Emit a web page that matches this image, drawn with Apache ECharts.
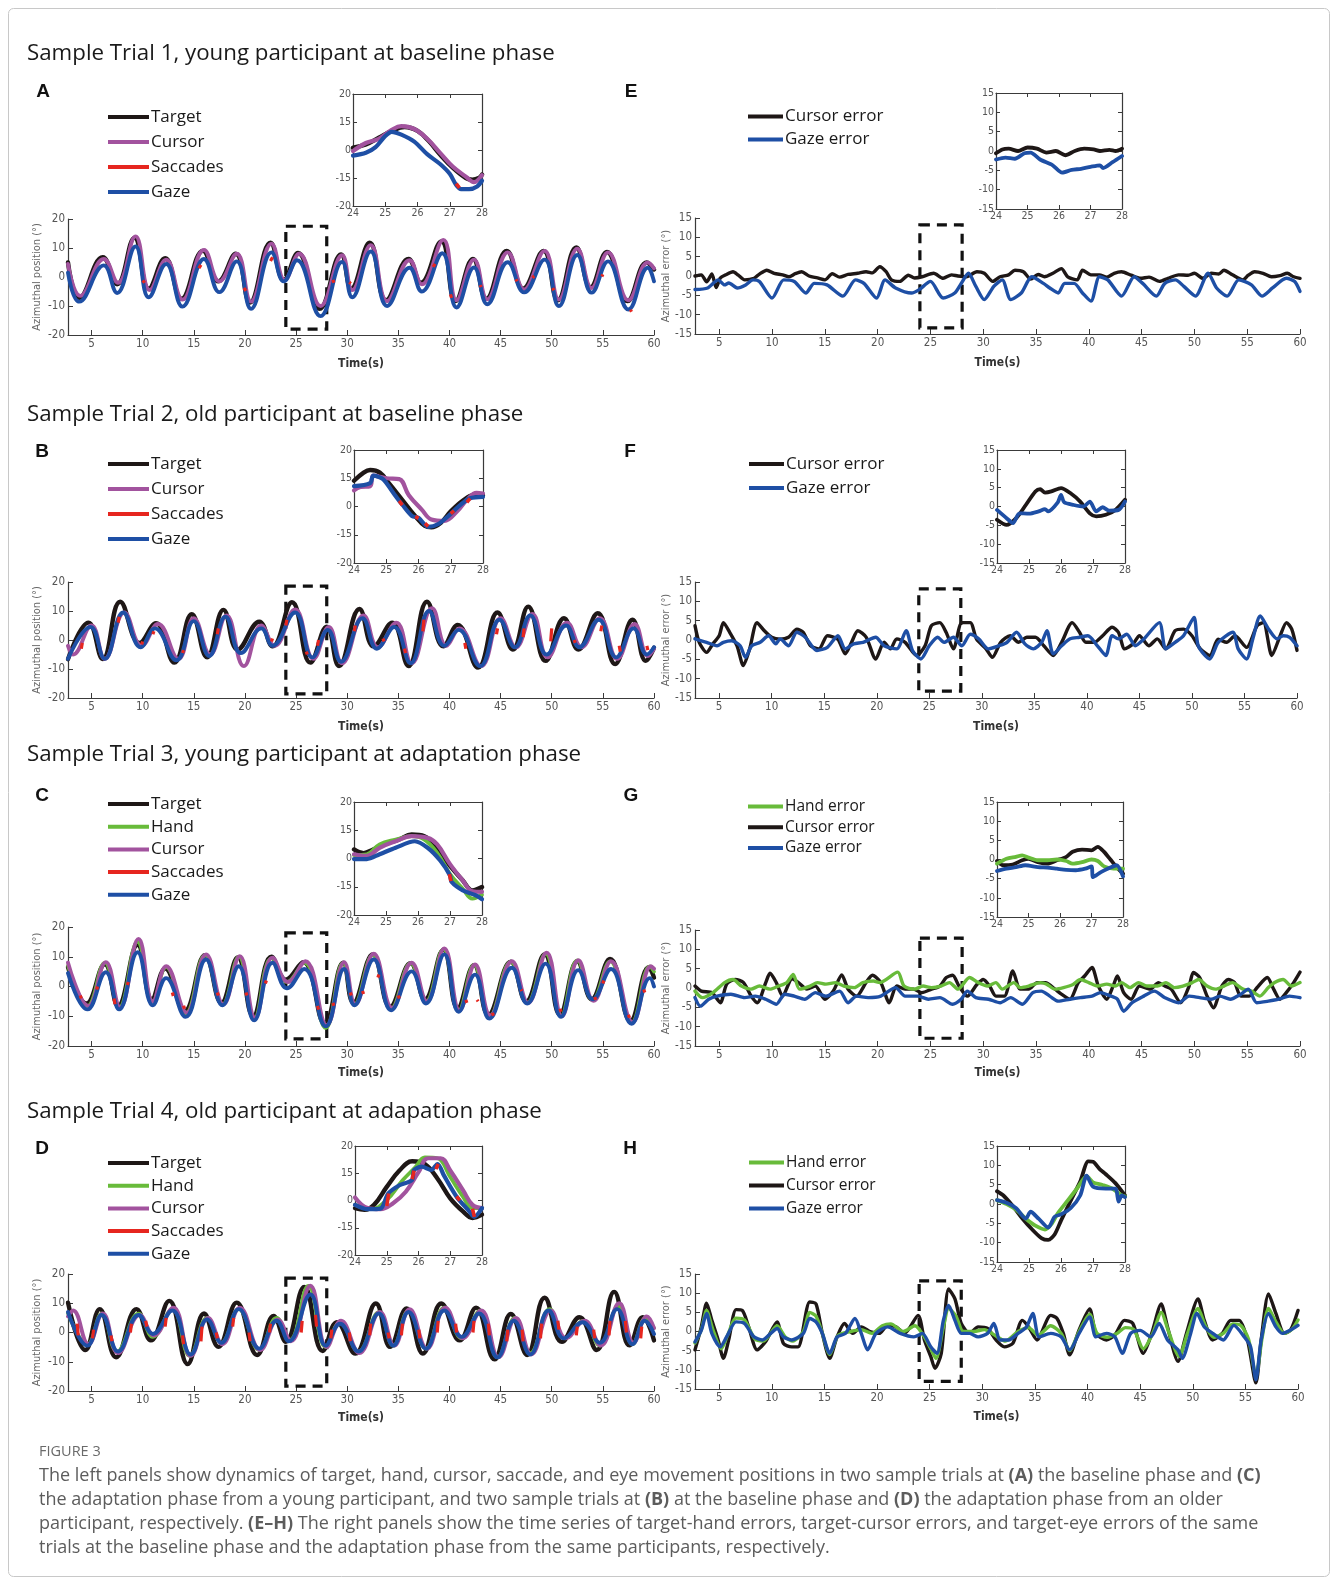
<!DOCTYPE html>
<html><head><meta charset="utf-8">
<script src="https://cdn.jsdelivr.net/npm/echarts@6/dist/echarts.min.js"></script>
<style>html,body{margin:0;padding:0;background:#fff;}#c{width:1332px;height:1580px;}</style>
</head><body><div id="c"></div>
<script>
// ---------------- tick labels ----------------
const timeTickValues = [5,10,15,20,25,30,35,40,45,50,55,60];
const insetPosTickLabels = {'-20':'-20','-10':'-15','0':'0','10':'15','20':'20'};

// ---------------- Panel A (Trial 1, young, baseline) ----------------
const tgtA = [[2.7,5],[3.8,-7.2],[6.1,6.8],[7.5,-2.5],[9.2,13.5],[10.6,-4],[12.2,6.5],[13.8,-7.5],[15.9,9],[17.4,-1.5],[19.1,8],[20.5,-8.8],[22.5,11.8],[23.8,-1],[25.2,8.3],[27.3,-11],[29.4,7.8],[30.4,-4],[32.2,11.8],[33.8,-8],[36.0,6.2],[37.2,-2],[39.2,12.3],[40.6,-8.3],[42.3,6.2],[43.6,-7.5],[45.6,9],[47.2,-4],[49.2,9],[50.6,-8],[52.4,10.2],[53.8,-3.5],[55.4,8.6],[57.4,-8.3],[59.3,5],[60,2.6]];
const curA = [[2.7,4.5],[3.9,-6.5],[6.2,6.2],[7.6,-2],[9.3,14],[10.7,-4.5],[12.3,6],[13.9,-7.8],[16.0,9.3],[17.5,-1.5],[19.2,8],[20.6,-8.5],[22.6,11.5],[23.9,-1],[25.3,8],[27.4,-10],[29.5,7.5],[30.5,-4.5],[32.3,11],[33.9,-8.3],[36.1,5.8],[37.3,-2.5],[39.4,12.8],[40.7,-8],[42.4,6],[43.7,-7.7],[45.7,8.5],[47.3,-4.3],[49.3,9],[50.7,-7.8],[52.5,9.8],[53.9,-3.8],[55.5,8.5],[57.5,-8],[59.4,5],[60,3]];
const gazA = [[2.7,1.5],[3.8,-8.5],[6.2,4],[7.5,-5.5],[9.3,10.5],[10.6,-7],[12.3,4.5],[13.9,-10.2],[16.0,6.2],[17.5,-5.2],[19.2,5.4],[20.6,-11],[22.6,8.5],[23.8,-1.5],[25.1,5.8],[27.4,-13.5],[29.5,5.2],[30.5,-7],[32.3,8.8],[33.9,-10],[36.1,3.2],[37.3,-5],[39.3,8.2],[40.7,-10.5],[42.4,3.3],[43.7,-9.4],[45.7,5.1],[47.3,-5.3],[49.3,6],[50.7,-10],[52.5,7.6],[53.9,-5.4],[55.5,5.4],[57.5,-11.2],[59.4,3.2],[60,-1.5]];
const sacA = [[10,-1.2,10.2,-2],[15.5,3,15.7,4.2],[19.9,-3.8,20.1,-4.8],[22.5,5.5,22.7,6.8],[28.6,-1,28.7,-2],[30.2,-1.8,30.35,-2.3],[38.4,3.5,38.6,4.5],[40.1,-6,40.2,-7.2],[43,-2.8,43.1,-3.5],[46.5,-0.8,46.6,-1.5],[48.1,-0.2,48.3,0.3],[50.1,-3.8,50.2,-4.6],[54.9,0.2,55,0.9],[57.7,-11.3,57.8,-12]];
const insA_tgt = [[24,0.8],[24.4,2],[24.8,4.4],[25.2,6.8],[25.6,8.2],[26,6.8],[26.35,3.2],[26.7,-1.6],[27.1,-6.4],[27.5,-10],[27.7,-10.6],[27.9,-10],[28,-8.8]];
const insA_cur = [[24,-0.4],[24.4,2.5],[24.8,4],[25.2,7.2],[25.5,8.5],[25.9,7.5],[26.3,4],[26.7,-1],[27.1,-6],[27.5,-9.5],[27.75,-11.5],[28,-9]];
const insA_gaz = [[24,-2],[24.4,-1],[24.7,1],[25.0,5],[25.2,6.5],[25.5,5.5],[25.9,3],[26.3,-1.5],[26.7,-5],[27.0,-8.5],[27.2,-12.5],[27.35,-14],[27.6,-14],[27.85,-13],[28,-11]];
const insA_sac = [[27.2,-12,27.3,-13.5]];

// ---------------- Panel B (Trial 2, old, baseline) ----------------
const tgtB = [[2.7,-6.6],[4.7,6],[6.1,-6.6],[7.8,13.2],[9.7,-1],[11.3,5.8],[13.1,-7.8],[14.8,8.9],[16.3,-6],[17.9,10.4],[19.3,-3.3],[21.4,6.3],[22.7,-2.2],[24.6,13],[26.4,-7.8],[28,4.6],[29.2,-9],[31.2,10.7],[32.6,-2.2],[34.4,6],[36,-9],[37.8,13.2],[39.4,-2.2],[40.8,5.2],[42.8,-9.5],[44.7,9.5],[46.2,-3.3],[47.7,11.5],[49.4,-7.2],[51.2,7.5],[52.6,-3.3],[54.5,9.2],[56.2,-8.3],[57.9,7],[59.2,-7.2],[60,-2.7]];
const curB = [[2.7,-2],[3.2,-5],[5.0,5],[6.3,-6.5],[8.2,9.5],[9.9,-2],[11.5,5.5],[13.5,-6.5],[15.0,7.5],[16.6,-5],[18.2,8.5],[19.9,-9],[21.6,5],[22.9,-2],[24.9,10.5],[26.7,-6.5],[28.2,4.5],[29.5,-8],[31.6,8.5],[33.0,-2.5],[34.8,6],[36.3,-8],[38.3,11],[39.7,-2],[41.0,4],[43.1,-9],[45.0,7.5],[46.5,-2.5],[48.1,9],[49.6,-6],[51.5,6],[52.9,-2.5],[54.7,7.5],[56.4,-6.5],[58.1,5.5],[59.4,-5.5],[60,-3]];
const gazB = [[2.7,-6.5],[4.9,4.5],[6.3,-6.5],[8.1,9.5],[9.8,-2.5],[11.2,4],[13.3,-7],[15.0,6.5],[16.5,-5.5],[18.1,8],[19.6,-4.5],[21.6,4],[22.7,-2],[24.9,9.5],[26.6,-6],[28.1,3.5],[29.4,-7.5],[31.5,7.5],[32.9,-3],[34.6,4.5],[36.2,-8],[38.0,10],[39.5,-2],[40.9,3.5],[43.0,-9],[44.9,7],[46.4,-2.5],[47.9,8.5],[49.5,-5],[51.4,5],[52.7,-2.5],[54.6,7],[56.3,-6],[58.0,4],[59.3,-5],[60,-2.5]];
const sacB = [[4.0,-3,4.1,-1],[7.6,6,7.7,8],[9.9,-1.5,10,-0.5],[11.0,2,11.1,3],[13.9,-4.5,14,-3.5],[17.3,2,17.4,4],[22.6,-0.5,22.7,0.5],[24.0,5,24.1,7],[26.0,-4,26.1,-5],[27.1,-2,27.2,0],[30.7,3,30.8,5],[33.5,0.5,33.6,-0.5],[35.6,-3,35.7,-4.5],[37.4,3,37.5,7],[41.5,-1,41.6,-3],[44.6,2,44.7,4],[47.2,1,47.3,4],[49.9,-0.5,50,4],[52.2,0,52.3,-1],[54.8,3,54.9,5],[56.6,-2,56.7,-4],[59.3,-2,59.4,-3.5]];
const insB_tgt = [[24,9.1],[24.3,12],[24.5,12.9],[24.8,12],[25.1,8],[25.5,2.3],[25.9,-3.4],[26.2,-6.9],[26.4,-7.4],[26.7,-5.7],[27.0,-1.7],[27.4,2.3],[27.7,4],[28,4]];
const insB_cur = [[24,5.7],[24.2,6.9],[24.5,7.2],[24.6,10.9],[25,10],[25.4,9.7],[25.7,4],[26.1,-1.1],[26.4,-4.6],[26.8,-5.1],[27.2,-1.7],[27.5,2.3],[27.8,4.8],[28,4.6]];
const insB_gaz = [[24,7.2],[24.5,8.3],[24.6,10.9],[24.9,9.7],[25.2,5.1],[25.5,0.6],[25.8,-3.4],[26.0,-4],[26.3,-7.2],[26.6,-6.3],[27.0,-2.6],[27.3,0.6],[27.6,2.9],[28,3.4]];
const insB_sac = [[25.4,2,25.5,0.5],[25.9,-3.5,26,-4.2],[26.2,-6,26.3,-7],[27.0,-2.5,27.1,-1.5],[27.5,1.5,27.6,2.9]];

// ---------------- Panel C (Trial 3, young, adaptation) ----------------
const tgtC = [[2.7,6.5],[4.5,-5.7],[6.3,7.5],[7.6,-6.5],[9.5,14],[10.9,-4.3],[12.2,6],[14.1,-8.3],[16.1,10.5],[17.7,-5.5],[19.3,9.8],[20.8,-10],[22.6,10],[24.0,2.3],[25.7,8.2],[27.8,-12.5],[29.6,8],[30.6,-5.5],[32.5,10.8],[34.2,-6.8],[36.2,7.8],[37.6,-4.3],[39.4,12.3],[40.8,-7.3],[42.4,7.2],[43.8,-9.5],[46.0,8.3],[47.5,-5],[49.3,10.8],[50.8,-9.5],[52.5,8.5],[53.9,-4.3],[55.7,9.3],[57.7,-11.5],[59.5,6.5],[60,3]];
const hndC = [[2.7,7],[4.6,-6.5],[6.3,8],[7.7,-7],[9.5,15],[11.0,-5],[12.3,6.5],[14.2,-9],[16.1,10.5],[17.8,-6],[19.4,10],[20.9,-10.8],[22.6,9.5],[24.1,1.5],[25.8,8],[27.9,-14],[29.6,8],[30.7,-6],[32.5,10.5],[34.3,-7.3],[36.2,7.8],[37.7,-5],[39.4,12.5],[40.9,-8],[42.4,7.3],[43.9,-10.2],[46.0,8.3],[47.6,-5.5],[49.4,11],[50.9,-10],[52.5,8.8],[54.0,-4.5],[55.7,8.5],[57.8,-12.2],[59.6,6.8],[60,5]];
const curC = [[2.7,8],[4.7,-6.5],[6.4,8.2],[7.8,-7],[9.6,16],[11.0,-5],[12.3,6.8],[14.3,-8.8],[16.2,10.8],[17.9,-6],[19.5,10.2],[21.0,-10.5],[22.7,9.7],[24.2,1.5],[25.9,8.5],[28.0,-13],[29.7,8.2],[30.8,-6],[32.6,11],[34.4,-7.2],[36.3,8],[37.8,-5],[39.5,12.8],[41.0,-8],[42.5,7.4],[44.0,-9.7],[46.1,8.5],[47.7,-5.5],[49.5,11.4],[51.0,-10],[52.6,8.8],[54.1,-4.8],[55.8,8.5],[57.9,-12],[59.7,6.8],[60,6]];
const gazC = [[2.7,4.5],[4.6,-7.7],[6.4,4.8],[7.7,-7.7],[9.5,11.5],[11.0,-6.3],[12.3,2.8],[14.2,-10.2],[16.2,9.1],[17.8,-6.3],[19.4,6.8],[20.9,-11.4],[22.7,8],[24.1,-0.6],[25.8,5.9],[27.9,-13.4],[29.7,5.9],[30.7,-6.3],[32.6,9.1],[34.3,-8],[36.3,5.1],[37.7,-5.7],[39.5,10.8],[40.9,-8.5],[42.5,4],[43.9,-10.8],[46.1,6.3],[47.6,-5.7],[49.4,7.7],[50.9,-10.2],[52.6,5.5],[54.0,-4.3],[55.8,5.9],[57.8,-12.5],[59.6,2.8],[60,0]];
const sacC = [[3.9,-3,4,-4],[5.5,-1,5.6,0],[7.2,-4,7.3,-6],[8.5,0.5,8.6,1.5],[12.9,-2,13,-3.2],[14,-6.5,14.1,-7.5],[17.3,-2,17.4,-3],[20.1,-2,20.2,-3],[22,1,22.1,2],[27.1,-6.5,27.2,-7.8],[28.6,-5.5,28.7,-6.5],[30.3,-2,30.4,-3],[31.5,-1.5,31.6,-2.5],[33,3,33.1,4],[35,-3,35.1,-4],[41.6,-4.5,41.7,-5.5],[42.7,-4.5,42.8,-5],[44.2,-8.8,44.3,-9.8],[47,-1,47.1,-1.5],[50.8,-7.5,50.9,-8.5],[54.2,-3.5,54.3,-4.5],[55,1,55.1,2],[57.5,-9.5,57.6,-10.5],[59,-1,59.1,-2]];
const insC_tgt = [[24,3.2],[24.3,1.9],[24.6,3.2],[25,5.3],[25.4,6.7],[25.8,8.5],[26.2,7.9],[26.6,3.2],[27.0,-2.6],[27.4,-7.8],[27.7,-11.3],[28,-10.1]];
const insC_hnd = [[24,1.2],[24.4,1.5],[24.8,5],[25.3,6.7],[25.8,7.9],[26.2,6.7],[26.6,2],[27.0,-5.5],[27.4,-10.7],[27.7,-14.2],[28,-12.8]];
const insC_cur = [[24,1.5],[24.4,0.9],[24.8,3.8],[25.3,6.1],[25.8,7.9],[26.3,7.3],[26.6,5],[27.0,-2],[27.4,-7.8],[27.7,-11.6],[28,-11.8]];
const insC_gaz = [[24,-0.2],[24.4,-0.2],[24.8,1.5],[25.3,3.8],[25.9,6.1],[26.3,3.8],[26.7,-0.8],[27.0,-6],[27.05,-8.3],[27.4,-11.3],[27.8,-13],[28,-14.4]];
const insC_sac = [[26.98,-5.5,27.03,-8]];

// ---------------- Panel D (Trial 4, old, adaptation) ----------------
const tgtD = [[2.7,10.2],[4.4,-6],[5.8,8],[7.4,-8.5],[9.4,8],[10.8,-2.7],[12.6,10.8],[14.4,-10.8],[16,6.5],[17.4,-4.9],[19.2,10.2],[21.2,-7.7],[22.8,5.7],[24,-3.2],[25.8,15.6],[27.6,-6.3],[29,3.5],[30.8,-7.2],[32.8,9.9],[34.2,-4.9],[35.8,8.2],[37.4,-7.2],[39.2,9.9],[41,-2.7],[42.6,8.5],[44.4,-9.2],[46,6.3],[47.6,-7.7],[49.3,11.9],[51,-3.2],[52.7,5.2],[54.4,-6],[56.1,13.9],[57.6,-4.4],[58.9,5.2],[60,-2.7]];
const hndD = [[2.7,6.5],[4.6,-4],[6.0,6.5],[7.5,-6.5],[9.6,6.5],[11.0,-1.5],[12.9,8],[14.6,-8],[16.3,5],[17.7,-3.5],[19.4,8],[21.4,-6],[23.1,5],[24.4,-2.5],[26.2,16],[27.9,-5],[29.3,3.5],[31.1,-6.5],[33.1,7],[34.5,-4.5],[36.0,7.5],[37.7,-5.5],[39.5,8.5],[41.2,-2],[43.0,7.5],[44.7,-8.5],[46.4,5],[47.9,-7],[49.8,8],[51.3,-2],[53.1,4],[54.7,-4.5],[56.5,9],[57.9,-4],[59.2,5],[60,1.5]];
const curD = [[2.7,5.5],[3.2,7.5],[4.7,-4],[6.1,6.5],[7.6,-7],[9.7,6],[11.1,-1],[13.0,8.5],[14.7,-8],[16.4,5],[17.8,-4],[19.5,8.5],[21.5,-6],[23.2,4.5],[24.5,-3],[26.4,16],[28.0,-5],[29.4,4],[31.2,-7],[33.2,7],[34.6,-4.5],[36.1,8],[37.8,-5.5],[39.6,8.5],[41.3,-2],[43.1,7.5],[44.8,-8.5],[46.5,5],[48.0,-7.5],[49.9,7.5],[51.4,-2],[53.2,4],[54.8,-4.5],[56.6,10],[58.0,-3.5],[59.3,5.5],[60,1.5]];
const gazD = [[2.7,7],[4.6,-4.5],[6.0,6],[7.6,-6.5],[9.6,6],[11.0,-0.5],[12.9,7.5],[14.7,-7.5],[16.3,4.5],[17.7,-3.5],[19.4,8],[21.4,-5.5],[23.1,4],[24.3,-3],[26.4,13],[27.9,-4.5],[29.3,3],[31.1,-6.5],[33.1,6.5],[34.5,-4.5],[36.0,7],[37.7,-5.5],[39.5,7.5],[41.2,-1.5],[42.9,6.5],[44.7,-8.5],[46.3,4],[47.9,-7.5],[49.7,7.5],[51.2,-2],[53.0,3.5],[54.7,-3.5],[56.4,8],[57.9,-4],[59.1,4],[60,-0.5]];
const sacD = [[3.6,3,3.7,-1],[5.1,-2,5.2,1],[6.9,-1,7,-3],[8.8,0,8.9,3],[10.3,4,10.4,2],[12.2,2,12.3,5],[13.9,-1,14,-4],[15.7,-3,15.8,2],[17.2,0,17.3,-2],[18.8,2,18.9,5],[20.4,0,20.5,-3],[22.4,0,22.5,3],[25.5,0,25.6,4],[26.9,6,27,2],[28.4,-2,28.5,1],[30.2,0,30.3,-3],[32.2,-1,32.3,3],[34,0,34.1,-2],[35.3,-1,35.4,3],[37,1,37.1,-2],[38.8,0,38.9,4],[40.6,3,40.7,0],[42.3,0,42.4,4],[43.8,3,43.9,-1],[45.6,-3,45.7,1],[47.1,1,47.2,-3],[48.9,-2,49,3],[50.6,4,50.7,1],[52.4,-1,52.5,2],[54.1,1,54.2,-2],[55.6,-1,55.7,4],[57.2,4,57.3,0],[58.7,-2,58.8,2]];
const insD_tgt = [[24,-2.8],[24.3,-3.4],[24.6,-1.6],[25,5],[25.4,11],[25.8,14.4],[26.2,13.4],[26.6,8],[27.0,0.8],[27.4,-4],[27.7,-6.4],[28,-5.2]];
const insD_hnd = [[24,-1.6],[24.5,-3.2],[25,0.2],[25.5,7.4],[25.9,12.2],[26.2,15.8],[26.6,15.5],[27.0,8.6],[27.4,1.4],[27.7,-2.8],[28,-2.8]];
const insD_cur = [[24,1.1],[24.4,-2.8],[24.8,-3.2],[25.2,-1],[25.6,3.2],[26.0,10.4],[26.3,15.5],[26.7,15.5],[27.0,11],[27.4,3.8],[27.7,-1.6],[28,-2.8]];
const insD_gaz = [[24,-1.6],[24.4,-3.2],[24.8,-3],[25.05,2.6],[25.4,5.6],[25.8,7.6],[25.85,11],[26.1,12.4],[26.4,11.2],[26.6,13.4],[26.8,9.2],[27.2,1.4],[27.6,-4],[27.75,-6],[28,-2.8]];
const insD_sac = [[25.0,-2,25.06,2.6],[25.8,7.8,25.86,11],[26.55,11.5,26.62,13.4],[27.2,1.5,27.3,0],[27.7,-3,27.76,-6]];

// ---------------- Panel E (errors, trial 1) ----------------
const curErrE = [[2.7,0],[3.3,0.3],[3.8,-1.5],[4.3,0.5],[4.7,-3],[5.1,-0.5],[5.6,0.3],[6.3,1.1],[6.8,0.2],[7.4,-1],[8.3,-0.6],[8.8,0.5],[9.5,1.5],[10.2,0.7],[11.0,0.3],[11.6,-0.2],[12.2,0.6],[12.8,1.1],[13.5,0],[14.3,-0.5],[15.0,-1],[15.7,0.6],[16.4,-0.3],[17.2,0.4],[18.1,0.7],[18.9,1.1],[19.5,0.8],[20.2,2.4],[20.8,1.1],[21.3,-1],[22.1,-1.4],[22.9,0.2],[23.5,-0.5],[24.2,-0.2],[25.3,0.7],[26.2,-0.6],[27.0,0.3],[27.6,0],[28.4,-0.2],[29.4,1.1],[30.1,0.7],[30.9,-1.4],[31.6,-0.2],[32.4,0.3],[33.0,1.5],[33.8,1.1],[34.5,-0.8],[35.2,0.4],[35.8,-0.2],[36.6,0.7],[37.4,1.9],[38.0,-0.2],[38.9,-1],[39.4,1.5],[40.2,0.3],[41.0,0.3],[41.7,-0.3],[42.4,0.7],[43.1,1.1],[44.0,0.2],[44.9,-0.6],[45.7,-0.3],[46.7,-1.4],[47.5,-0.6],[48.5,0.3],[49.4,0.2],[50.0,0.7],[50.8,-0.6],[51.6,0.7],[52.3,0.5],[52.8,1.5],[53.6,0.3],[54.6,-1],[55.1,0.2],[55.7,1.1],[56.5,0.7],[57.3,-0.2],[58.1,0.1],[58.8,0.7],[59.4,-0.2],[60,-0.6]];
const gazErrE = [[2.7,-3.5],[3.9,-3.1],[4.9,-1],[5.5,-2.3],[5.9,-1.8],[6.7,-3.1],[7.5,-2.3],[8.2,-1],[8.8,-1.4],[10.0,-5.7],[11.1,-1],[12.1,-1.4],[13.2,-4.4],[14.0,-1.9],[15.2,-2.3],[16.7,-5.2],[17.9,-1],[18.7,-1.9],[19.9,-5.7],[20.7,-1],[21.7,-3.1],[23.2,-4.4],[23.9,-3.6],[25.0,-1.4],[26.2,-5.7],[27.3,-4.4],[27.9,-2],[28.6,0.7],[29.3,-2.7],[30.1,-6.1],[31.0,-2.7],[31.8,-1],[32.6,-6.1],[33.6,-4.4],[34.6,-0.2],[35.7,-1.9],[36.3,-3.1],[37.1,-4.4],[37.7,-1.9],[38.6,-1.9],[39.4,-4.4],[40.2,-6.5],[41.0,-0.2],[41.8,-1],[43.1,-5.2],[44.3,-0.2],[45.1,-1.9],[46.4,-5.2],[47.2,-1.9],[48.2,-1],[49.0,-2.7],[50.1,-5.2],[51.3,0.7],[52.1,-3.1],[53.1,-5.2],[54.2,-1],[55.4,-2.3],[56.4,-5.2],[57.4,-3.1],[58.7,-0.6],[59.5,-1.4],[60,-4]];
const insE_cur = [[24,-0.6],[24.2,0.4],[24.4,0.6],[24.7,0],[25,0.9],[25.3,0.6],[25.6,-0.4],[25.9,0],[26.2,-1.1],[26.5,0],[26.8,0.6],[27.1,0.4],[27.3,0],[27.6,0.3],[27.8,0],[28,0.6]];
const insE_gaz = [[24,-2.2],[24.3,-1.7],[24.6,-2],[24.9,-0.6],[25.1,-0.4],[25.4,-2.2],[25.8,-3.7],[26.1,-5.6],[26.4,-4.9],[26.7,-4.6],[27.0,-4.1],[27.3,-3.7],[27.4,-4.4],[27.7,-2.9],[28,-1.3]];

// ---------------- Panel F (errors, trial 2) ----------------
const curErrF = [[2.7,3.7],[3.1,-0.6],[3.8,-3.2],[4.4,-1],[5.0,1.1],[5.4,4.5],[6.0,2],[6.7,-1.5],[7.3,-6.6],[7.9,-2.3],[8.6,4.5],[9.3,2.4],[10.0,0.7],[10.8,0.2],[11.6,0.7],[12.4,2.8],[13.0,2],[13.7,-1.5],[14.5,-2.3],[15.3,1.1],[16.3,0.2],[17.0,-3.6],[17.6,-0.6],[18.2,2.4],[19.0,0.7],[19.9,-4.9],[20.7,-0.6],[21.3,-2.3],[21.9,0.3],[22.7,-0.6],[23.8,-4],[24.6,-1.5],[25.2,3.7],[26.0,4.5],[26.6,2],[27.3,-2.3],[28.1,4.5],[28.9,4.5],[29.5,0.2],[30.4,-2.3],[31.0,-4.5],[31.8,-0.6],[32.7,1.1],[33.5,-0.6],[34.3,0.7],[35.1,0.7],[35.9,-1.5],[36.8,-4],[37.6,-0.6],[38.6,4.5],[39.3,2],[39.9,-0.6],[40.7,-0.6],[41.5,1.1],[42.4,3.3],[43.0,2],[43.6,-2.3],[44.4,-1],[45.0,1.1],[45.9,-1.5],[46.7,0.3],[47.5,-2.3],[48.4,2.4],[49.2,2.8],[50.0,1.1],[50.8,-2.3],[51.7,-4],[52.5,0.2],[53.3,-0.6],[54.1,1.1],[55.2,-1.9],[56.2,3.7],[56.8,4.5],[57.6,-4],[58.4,1.1],[59.0,4.5],[59.5,2.8],[60,-2.7]];
const gazErrF = [[2.7,0.3],[3.8,-0.6],[4.8,-1.5],[5.4,-0.6],[6.2,-0.2],[7.0,-1.5],[7.5,-4.5],[8.1,-1.5],[8.9,-0.6],[9.7,1.1],[10.4,-1],[10.8,0.3],[11.6,-1.5],[12.4,2],[13.2,0.7],[14.3,-2.7],[15.3,-1.9],[16.3,1.1],[17.0,-2.3],[17.8,-1],[18.7,-0.6],[19.9,0.7],[20.7,-1.5],[21.9,-2.3],[22.8,2.4],[23.4,-2.7],[24.2,-4.9],[25.0,-1.5],[25.8,0.7],[26.4,-0.6],[27.3,0.7],[28.1,-1.5],[28.9,1.5],[29.7,0.3],[30.6,-2.3],[31.6,-1.5],[32.4,-0.6],[33.3,2],[34.1,-1],[34.9,-2.3],[35.7,-0.6],[36.2,2.4],[36.8,-3.6],[37.6,-1.5],[38.4,0.3],[39.3,0.7],[40.1,1.1],[41.0,-1.5],[41.8,-4],[42.4,1.1],[43.0,0.3],[43.8,1.5],[44.6,-1.5],[45.4,0.2],[46.9,4.5],[47.5,-2.3],[48.4,-0.6],[49.2,1.1],[50.2,5.8],[50.6,-1.5],[51.7,-4.9],[52.5,-0.6],[53.9,2],[54.4,-2.3],[55.2,-4.9],[55.8,0.3],[56.5,6.2],[57.3,2.8],[58.1,0.3],[58.7,1.1],[59.3,0.7],[60,-1.5]];
const insF_cur = [[24,-3.5],[24.3,-4.9],[24.6,-3.1],[24.9,0.4],[25.2,4],[25.35,4.6],[25.5,3.7],[25.7,4],[26.0,4.9],[26.3,3.5],[26.6,1.3],[26.9,-1.8],[27.1,-2.6],[27.4,-2.2],[27.7,-0.9],[28,1.8]];
const insF_gaz = [[24,-0.9],[24.3,-3.1],[24.5,-4.4],[24.7,-1.8],[25.0,-1.9],[25.3,-1.3],[25.5,-0.7],[25.6,-1.3],[25.9,1.1],[26.0,3.1],[26.1,1.1],[26.4,0.4],[26.7,0],[26.9,1.3],[27.1,-1.3],[27.3,-0.2],[27.5,-1.1],[27.8,-0.9],[28,1.3]];

// ---------------- Panel G (errors, trial 3) ----------------
const hndErrG = [[2.7,-0.8],[3.4,-2.5],[4.4,-1.2],[5.5,1.4],[6.3,2.2],[7.1,0.5],[8.0,-0.3],[8.8,0.5],[9.8,-0.3],[10.6,0.5],[11.4,1.4],[12.0,3.5],[12.6,-0.3],[13.6,0.5],[14.3,1.4],[15.1,1],[16.0,1.4],[16.8,0.5],[17.8,0.1],[18.6,1.4],[19.6,1.8],[20.2,1.4],[21.9,4.1],[22.5,0.5],[23.5,-0.3],[24.3,0.5],[25.1,0.1],[26.0,0.5],[26.8,1.4],[27.6,-0.3],[28.7,2.7],[29.5,1.4],[30.4,0.5],[31.2,1.4],[31.8,-0.3],[32.9,1.4],[33.5,0.1],[34.3,0.5],[35.4,1.4],[36.0,1],[36.8,-0.3],[37.6,0.1],[38.5,0.9],[39.2,2.2],[40.0,1.4],[40.8,0.5],[41.7,1],[42.5,0.5],[43.1,1.4],[43.9,0.1],[44.7,1.4],[45.5,0.5],[46.5,0.5],[47.3,1.4],[48.1,0.1],[48.9,0.5],[49.8,1.4],[50.4,2.2],[51.2,0.5],[52.0,-0.3],[52.8,0.5],[53.6,1.4],[54.6,-0.3],[55.4,-0.8],[56.2,-2.1],[57.0,0.1],[57.6,1.4],[58.4,2.2],[59.2,0.5],[60,1.4]];
const curErrG = [[2.7,0.5],[3.3,-0.8],[4.3,-1.2],[5.1,-3.8],[5.7,1],[6.5,2.2],[7.3,1.4],[8.0,-2],[8.6,-3.8],[9.4,1.4],[9.8,3.8],[10.4,1.4],[11.0,-2.1],[11.9,2.4],[12.5,1.4],[13.3,-0.3],[14.1,0.5],[15.0,-2.9],[15.8,-0.8],[16.6,3.4],[17.2,-0.3],[18.0,-2.1],[18.9,1.4],[19.5,3.3],[20.3,1.4],[21.1,-3.8],[21.8,0.5],[22.6,-0.3],[23.4,-0.3],[24.2,-1.2],[25.1,-0.3],[25.9,0.5],[26.5,2.7],[27.1,3.3],[27.7,0.5],[28.5,-2.1],[29.4,0.9],[30.0,2.2],[30.6,0.5],[31.2,-2.1],[32.0,-2.1],[32.8,4.4],[33.5,-0.3],[34.3,-0.3],[35.1,1.4],[35.9,1.4],[36.8,-0.3],[37.4,-1.6],[38.2,-2.9],[39.0,1.4],[39.6,3.1],[40.3,5.3],[40.9,0.5],[41.7,-2.9],[42.3,0.5],[42.7,3.1],[43.3,-1.2],[44.0,-2.9],[44.8,0.5],[45.8,-0.3],[46.6,1.4],[47.2,0.5],[47.8,-0.3],[48.7,-3.8],[49.5,0.5],[49.9,4],[50.5,2.7],[51.2,-2.1],[51.8,-5.1],[52.6,0.5],[53.2,2.2],[53.8,1.4],[54.4,-2.1],[55.2,-2.1],[55.9,0],[56.9,2.7],[57.5,-0.3],[58.1,-2.9],[58.7,-1.2],[59.4,1.4],[60,4.1]];
const gazErrG = [[2.7,-2.5],[3.2,-4.7],[4.0,-2.9],[4.8,-2.1],[6.1,-1.6],[7.4,-2.5],[8.4,-2.1],[9.4,-2.9],[10.4,-4.2],[11.2,-1.6],[12.1,-2.1],[13.1,-2.9],[14.1,-1.2],[15.1,-2.1],[16.4,-0.8],[17.2,-3.8],[18.0,-2.1],[19.1,-2.5],[20.3,-2.1],[21.7,0.1],[22.6,-2.1],[23.8,-2.1],[24.8,-2.9],[25.9,-2.5],[27.1,-4.2],[27.9,-2.9],[28.5,-0.8],[29.3,-2.5],[30.5,-2.9],[31.6,-3.8],[32.6,-2.5],[33.7,-4.2],[34.7,-1.2],[35.5,-0.8],[36.3,-2.1],[37.1,-3.4],[38.2,-2.9],[39.2,-2.5],[40.3,-2.1],[41.1,-1.2],[42.1,-2.1],[42.7,-2.9],[43.3,-6],[44.1,-3.8],[45.2,-2.1],[46.2,-0.8],[47.2,-2.5],[48.5,-3.8],[49.5,-2.1],[50.5,-2.5],[51.6,-2.9],[52.4,-2.1],[53.4,-2.9],[54.4,-1.6],[55.1,-0.3],[55.9,-3.8],[57.0,-3.4],[58.0,-2.9],[59.0,-2.1],[60,-2.5]];
const insG_hnd = [[24,-1.1],[24.3,0.2],[24.6,0.7],[24.8,1.1],[25.0,0.5],[25.3,-0.2],[25.6,-0.2],[25.9,0],[26.2,-0.4],[26.4,-1.1],[26.7,-0.7],[27.0,0],[27.2,-0.4],[27.4,-1.8],[27.7,-2.4],[28,-2.4]];
const insG_cur = [[24,-0.4],[24.2,-1.5],[24.5,-1.3],[24.8,-0.2],[25.0,0.2],[25.3,-0.7],[25.6,-1.1],[25.9,-0.2],[26.2,0.7],[26.4,2],[26.7,2.6],[27.0,2.4],[27.2,3.3],[27.4,2],[27.6,0],[27.8,-2],[28,-3.7]];
const insG_gaz = [[24,-3],[24.3,-2.4],[24.6,-2],[24.9,-1.5],[25.3,-2],[25.6,-2.1],[25.9,-2.4],[26.2,-2.7],[26.5,-2.8],[26.8,-2.4],[27.0,-1.8],[27.05,-4.6],[27.3,-3.3],[27.6,-2.1],[27.8,-1.5],[28,-4.4]];

// ---------------- Panel H (errors, trial 4) ----------------
const hndErrH = [[2.7,-3],[3.3,0.5],[3.8,5.5],[4.4,0.5],[5.2,-4.5],[5.8,-1],[6.6,3.5],[7.4,3],[8.4,-2],[9.2,-2.5],[10.5,1.5],[11.3,-1.5],[12.0,-2.5],[13.0,0],[13.6,5],[14.2,4],[14.8,-0.5],[15.5,-6],[16.3,-1],[17.5,0],[18.5,0.5],[19.5,-0.5],[20.5,1.5],[21.3,2],[22.5,0],[23.6,1.5],[24.4,-1],[25.1,-4.5],[25.6,-7],[26.3,1],[26.8,6],[27.5,4],[28.2,0],[29.2,0],[30.2,0.5],[31.2,-1],[32.2,-2.5],[33.4,0],[34.4,1],[35.3,-1],[36.5,1.5],[37.5,-0.5],[38.3,-5],[39.2,0],[40.2,4.5],[40.9,-0.5],[41.9,-1.5],[42.8,-0.5],[43.6,1],[44.4,0.5],[45.3,-4.5],[46.2,-0.5],[47.0,5],[47.7,0],[48.7,-6.5],[49.5,-0.5],[50.5,6],[51.2,1.5],[52.0,-1.5],[52.9,-0.5],[53.8,2],[54.6,1.5],[55.3,-2],[56.0,-11.5],[56.6,-1.5],[57.2,6],[57.9,2.5],[58.7,-0.5],[59.4,0.5],[60,3]];
const curErrH = [[2.7,-4.8],[3.3,1.2],[3.8,7.4],[4.3,2.9],[4.9,-2.2],[5.4,-7],[5.9,-2.2],[6.6,5.7],[7.2,5.5],[7.8,1.2],[8.6,-4.8],[9.4,-2.7],[10.5,2.5],[11.1,-3.1],[11.9,-4],[12.5,-4],[13.6,7.7],[14.2,7.2],[14.8,-0.5],[15.5,-7],[16.2,-1.4],[16.9,2.1],[17.7,-0.5],[18.5,1.2],[19.4,-0.1],[20.2,-0.5],[21.0,1.6],[21.8,1.2],[22.6,-0.5],[23.9,4.2],[24.5,-2.2],[25.1,-6.5],[25.5,-9.6],[26.1,-5.7],[26.8,11.1],[27.4,8.5],[28.0,2.1],[28.8,-0.5],[29.6,1.2],[30.5,0.8],[31.3,-2.2],[32.1,-4],[32.9,-3.1],[33.8,2.9],[34.4,1.2],[35.2,-2.2],[36.5,4.2],[37.1,3.4],[37.7,-0.5],[38.3,-6.1],[39.2,0.4],[40.2,5.9],[40.8,-0.5],[41.8,-2.2],[42.6,-0.9],[43.5,2.9],[44.3,2.1],[45.3,-5.7],[46.1,-0.5],[47.0,7.2],[47.6,1.2],[48.6,-7.8],[49.4,-0.5],[50.5,8.5],[51.1,2.9],[51.9,-2.2],[52.8,-0.5],[53.6,2.9],[54.4,2.9],[55.2,-2.2],[56.0,-13.4],[56.5,-2.2],[57.2,9.8],[57.9,4.7],[58.7,-0.5],[59.3,0.4],[60,5.5]];
const gazErrH = [[2.7,-2.7],[3.3,0.3],[3.8,4.7],[4.3,-0.5],[5.1,-4],[5.7,-1.4],[6.6,2.5],[7.4,2.1],[8.3,-1.4],[9.1,-2.2],[9.9,-0.5],[10.5,0.8],[11.1,-1.4],[11.9,-2.2],[13.0,-0.5],[13.6,3.4],[14.2,2.5],[14.8,-0.5],[15.5,-5.7],[16.2,-1.4],[17.0,-0.5],[17.9,3.4],[18.5,-0.5],[19.1,-4.8],[19.9,-0.5],[21.0,1.2],[22.2,-0.5],[23.5,-1.4],[24.3,-0.5],[25.1,-4],[25.7,-5.7],[26.3,2.9],[26.8,6.8],[27.4,2.9],[28.0,-0.5],[28.8,-0.5],[29.6,-1.4],[30.5,-0.5],[31.1,2.1],[31.7,-2.2],[32.5,-2.2],[33.4,-0.5],[34.2,1.2],[34.8,4.7],[35.4,-1.4],[36.5,-0.5],[37.5,-1.4],[38.3,-4.8],[39.2,-0.5],[40.2,3.8],[40.8,-1.4],[41.8,-0.5],[42.6,-1.4],[43.3,-5.7],[44.1,-0.5],[45.0,0.3],[46.0,-1.4],[46.8,2.1],[47.6,-2.2],[48.6,-4.8],[49.0,-7],[49.8,-0.5],[50.4,4.7],[51.1,1.2],[51.9,-0.5],[52.9,-2.2],[53.9,1.6],[54.9,-1.4],[55.5,-4],[56.0,-12.6],[56.5,-2.2],[57.2,4.7],[57.9,1.2],[58.5,-0.5],[59.3,0.4],[60,1.6]];
const insH_hnd = [[24,1],[24.3,0],[24.6,-1.5],[24.9,-3.8],[25.2,-5.6],[25.5,-6.6],[25.7,-5.2],[25.9,-2.4],[26.2,0.8],[26.5,4],[26.8,7.2],[27.0,5.6],[27.3,4.9],[27.6,4],[27.9,2.2],[28,2]];
const insH_cur = [[24,3.3],[24.2,2.2],[24.5,-0.6],[24.8,-3.8],[25.1,-6.6],[25.4,-8.9],[25.6,-9.3],[25.8,-7.9],[26.0,-4.3],[26.3,0.8],[26.6,5.8],[26.85,11],[27.0,10.9],[27.2,9.1],[27.4,7.7],[27.7,5.4],[28,2.2]];
const insH_gaz = [[24,1],[24.3,0.3],[24.6,-1.1],[24.9,-3.8],[25.05,-2],[25.3,-3.8],[25.6,-6.1],[25.8,-3.3],[26.0,-2.7],[26.3,-1.1],[26.6,2.2],[26.8,7.3],[27.0,4.5],[27.4,4],[27.7,4],[27.8,0.6],[27.9,2.2],[28,1.8]];

// zoom windows [tStart, tEnd, yLow, yHigh]
const boxA=[24,28,-18,17.5], boxB=[24,28,-18.6,18.6], boxC=[24,28,-17.6,18], boxD=[24,28,-18.3,18.6];
const boxE=[24,28,-13.4,13.2], boxF=[24,28,-13.2,13.2], boxG=[24,28,-13,12.9], boxH=[24,28,-13,13.2];

// ---------------- styling ----------------
const COL = {Target:'#1e1716', Cursor:'#a2539e', Saccades:'#e6261f', Gaze:'#1e4fa5', Hand:'#68bb3a',
  'Cursor error':'#1e1716', 'Gaze error':'#1e4fa5', 'Hand error':'#68bb3a'};
const TICKFONT = '"Liberation Sans Narrow","DejaVu Sans Condensed","Roboto Condensed","Liberation Sans",sans-serif';
const TXTFONT = '"Open Sans","Noto Sans",sans-serif';

const grids=[], xAxes=[], yAxes=[], series=[], legends=[], graphics=[];

function addGrid(r){ grids.push({left:r[0], top:r[1], width:r[2], height:r[3], containLabel:false, show:false}); return grids.length-1; }

function mainAxes(g, yMin, yMax, yInt, yName, nameGap, xNameGap){
  xAxes.push({gridIndex:g, type:'value', min:2.7, max:60,
    axisLine:{onZero:false, lineStyle:{color:'#3a3a3a', width:1.2}},
    axisTick:{inside:true, length:5, customValues:timeTickValues, lineStyle:{color:'#3a3a3a'}},
    axisLabel:{customValues:timeTickValues, color:'#555', fontSize:11.5, fontFamily:TICKFONT, margin:3},
    splitLine:{show:false},
    name:'Time(s)', nameLocation:'middle', nameGap:xNameGap,
    nameTextStyle:{fontWeight:'bold', fontSize:12, color:'#333', fontFamily:TICKFONT}});
  yAxes.push({gridIndex:g, type:'value', min:yMin, max:yMax, interval:yInt,
    axisLine:{show:true, onZero:false, lineStyle:{color:'#3a3a3a', width:1.2}},
    axisTick:{show:true, inside:true, length:5, lineStyle:{color:'#3a3a3a'}},
    axisLabel:{color:'#555', fontSize:11.5, fontFamily:TICKFONT, margin:3},
    splitLine:{show:false},
    name:yName, nameLocation:'middle', nameRotate:90, nameGap:nameGap,
    nameTextStyle:{fontSize:11, color:'#666', fontFamily:TICKFONT}});
  return {xi:xAxes.length-1, yi:yAxes.length-1};
}

function insetAxes(g, yMin, yMax, yInt, labelMap){
  const common = {axisLine:{onZero:false, lineStyle:{color:'#3a3a3a', width:1.2}}, splitLine:{show:false}};
  xAxes.push(Object.assign({gridIndex:g, type:'value', min:24, max:28, interval:1, position:'bottom',
    axisTick:{inside:true, length:4, lineStyle:{color:'#3a3a3a'}},
    axisLabel:{color:'#555', fontSize:10.5, fontFamily:TICKFONT, margin:2}}, common));
  const xi = xAxes.length-1;
  xAxes.push(Object.assign({gridIndex:g, type:'value', min:24, max:28, interval:1, position:'top',
    axisTick:{inside:true, length:4, lineStyle:{color:'#3a3a3a'}}, axisLabel:{show:false}}, common));
  yAxes.push(Object.assign({gridIndex:g, type:'value', min:yMin, max:yMax, interval:yInt, position:'left',
    axisTick:{show:true, inside:true, length:4, lineStyle:{color:'#3a3a3a'}},
    axisLabel:{color:'#555', fontSize:10.5, fontFamily:TICKFONT, margin:2,
      formatter: v => labelMap ? (labelMap[String(v)] ?? String(v)) : String(v)}}, common));
  const yi = yAxes.length-1;
  yAxes.push(Object.assign({gridIndex:g, type:'value', min:yMin, max:yMax, interval:yInt, position:'right',
    axisTick:{show:true, inside:true, length:4, lineStyle:{color:'#3a3a3a'}}, axisLabel:{show:false}}, common));
  return {xi, yi};
}

function lineS(name, data, ax, width, smooth, z, box){
  const s = {type:'line', name, data, xAxisIndex:ax.xi, yAxisIndex:ax.yi, showSymbol:false, symbol:'none',
    smooth:smooth, lineStyle:{color:COL[name], width:width, cap:'round', join:'round'}, itemStyle:{color:COL[name]},
    silent:true, z:z, animation:false, clip:true};
  if(box){
    s.markArea = {silent:true, itemStyle:{color:'rgba(0,0,0,0)', borderColor:'#111', borderWidth:3.2, borderType:[10,7]},
      data:[[{xAxis:box[0], yAxis:box[3]},{xAxis:box[1], yAxis:box[2]}]]};
  }
  return s;
}
function saccS(segs, ax, width){
  const d=[];
  segs.forEach(s=>{ d.push([s[0],s[1]]); d.push([s[2],s[3]]); d.push([s[2],'-']); });
  return {type:'line', name:'Saccades', data:d, xAxisIndex:ax.xi, yAxisIndex:ax.yi, showSymbol:false, symbol:'none',
    connectNulls:false, lineStyle:{color:COL.Saccades, width:width}, itemStyle:{color:COL.Saccades}, silent:true, z:9, animation:false};
}

function addLegend(names, left, top, iconW, fontSize, lineH, gap){
  legends.push({show:true, orient:'vertical', left:left, top:top, padding:0, itemGap:gap, itemWidth:iconW, itemHeight:4,
    icon:'rect', selectedMode:false, data:names,
    textStyle:{fontFamily:TXTFONT, fontSize:fontSize, color:'#1a1a1a', lineHeight:lineH, padding:[0,0,0,-3]}});
}

// ---------------- position panels ----------------
function posPanel(p){
  const g = addGrid(p.main);
  const ax = mainAxes(g, -20, 20, 10, 'Azimuthal position (°)', 25, p.xng);
  series.push(lineS('Target', p.tgt, ax, 4.4, 0.45, 2, p.box));
  if(p.hnd) series.push(lineS('Hand', p.hnd, ax, 3.6, 0.45, 3));
  series.push(lineS('Cursor', p.cur, ax, 3.9, 0.45, 4));
  series.push(lineS('Gaze', p.gaz, ax, 3.9, 0.45, 6));
  series.push(saccS(p.sac, ax, 3.2));
  const gi = addGrid(p.inset);
  const ai = insetAxes(gi, -20, 20, 10, insetPosTickLabels);
  series.push(lineS('Target', p.itgt, ai, 4.4, 0.4, 2));
  if(p.ihnd) series.push(lineS('Hand', p.ihnd, ai, 3.8, 0.4, 3));
  series.push(lineS('Cursor', p.icur, ai, 4.2, 0.4, 4));
  series.push(lineS('Gaze', p.igaz, ai, 4.2, 0.3, 6));
  series.push(saccS(p.isac, ai, 3.6));
}
function errPanel(p){
  const g = addGrid(p.main);
  const ax = mainAxes(g, -15, 15, 5, 'Azimuthal error (°)', 20, p.xng);
  p.lines.forEach((l,i)=> series.push(lineS(l[0], l[1], ax, 3.4, 0.25, 2+i, i===0 ? p.box : null)));
  const gi = addGrid(p.inset);
  const ai = insetAxes(gi, -15, 15, 5, null);
  p.ilines.forEach((l,i)=> series.push(lineS(l[0], l[1], ai, 3.8, 0.25, 2+i)));
}

posPanel({main:[68,219,586,116], inset:[353,94,129,112], xng:23, tgt:tgtA, cur:curA, gaz:gazA, sac:sacA, box:boxA,
  itgt:insA_tgt, icur:insA_cur, igaz:insA_gaz, isac:insA_sac});
posPanel({main:[68,582,586,116], inset:[354,450,129,113], xng:23, tgt:tgtB, cur:curB, gaz:gazB, sac:sacB, box:boxB,
  itgt:insB_tgt, icur:insB_cur, igaz:insB_gaz, isac:insB_sac});
posPanel({main:[68,927,586,119], inset:[354,802,128,113], xng:21, tgt:tgtC, hnd:hndC, cur:curC, gaz:gazC, sac:sacC, box:boxC,
  itgt:insC_tgt, ihnd:insC_hnd, icur:insC_cur, igaz:insC_gaz, isac:insC_sac});
posPanel({main:[68,1274,586,117], inset:[355,1146,127,109], xng:21, tgt:tgtD, hnd:hndD, cur:curD, gaz:gazD, sac:sacD, box:boxD,
  itgt:insD_tgt, ihnd:insD_hnd, icur:insD_cur, igaz:insD_gaz, isac:insD_sac});

errPanel({main:[695,218,605,116], inset:[996,93,126,116], xng:23, box:boxE,
  lines:[['Cursor error',curErrE],['Gaze error',gazErrE]], ilines:[['Cursor error',insE_cur],['Gaze error',insE_gaz]]});
errPanel({main:[695,582,602,116], inset:[997,450,128,113], xng:23, box:boxF,
  lines:[['Cursor error',curErrF],['Gaze error',gazErrF]], ilines:[['Cursor error',insF_cur],['Gaze error',insF_gaz]]});
errPanel({main:[695,930,605,116], inset:[997,802,126,115], xng:21, box:boxG,
  lines:[['Cursor error',curErrG],['Hand error',hndErrG],['Gaze error',gazErrG]],
  ilines:[['Cursor error',insG_cur],['Hand error',insG_hnd],['Gaze error',insG_gaz]]});
errPanel({main:[695,1274,603,115], inset:[997,1146,128,116], xng:22, box:boxH,
  lines:[['Cursor error',curErrH],['Hand error',hndErrH],['Gaze error',gazErrH]],
  ilines:[['Cursor error',insH_cur],['Hand error',insH_hnd],['Gaze error',insH_gaz]]});

// legends
addLegend(['Target','Cursor','Saccades','Gaze'], 108, 107, 41, 17, 20, 5);
addLegend(['Target','Cursor','Saccades','Gaze'], 108, 454, 41, 17, 20, 5);
addLegend(['Target','Hand','Cursor','Saccades','Gaze'], 108, 795, 41, 17, 18, 4.7);
addLegend(['Target','Hand','Cursor','Saccades','Gaze'], 108, 1154, 41, 17, 18, 4.7);
addLegend(['Cursor error','Gaze error'], 748, 107, 35, 17, 19, 4);
addLegend(['Cursor error','Gaze error'], 749, 454, 35, 17, 20, 4);
addLegend(['Hand error','Cursor error','Gaze error'], 748, 798, 35, 15.5, 17, 3.7);
addLegend(['Hand error','Cursor error','Gaze error'], 749, 1153, 35, 15.5, 19, 4);

// ---------------- texts ----------------
const titles = [['Sample Trial 1, young participant at baseline phase',53.5],
  ['Sample Trial 2, old participant at baseline phase',415],
  ['Sample Trial 3, young participant at adaptation phase',755],
  ['Sample Trial 4, old participant at adapation phase',1111.5]];
titles.forEach(t=>graphics.push({type:'text', x:27, y:t[1], silent:true,
  style:{text:t[0], fontFamily:TXTFONT, fontSize:22.3, fill:'#1a1a1a', verticalAlign:'middle'}}));
const letters = [['A',43,92],['E',631,92],['B',42,452],['F',630,452],['C',42,796],['G',631,796],['D',42,1149],['H',630,1149]];
letters.forEach(l=>graphics.push({type:'text', x:l[1], y:l[2], silent:true,
  style:{text:l[0], fontFamily:'"Liberation Sans",Arial,sans-serif', fontWeight:'bold', fontSize:19, fill:'#111', align:'center', verticalAlign:'middle'}}));

const captionHead = 'FIGURE 3';
const captionLines = [
 'The left panels show dynamics of target, hand, cursor, saccade, and eye movement positions in two sample trials at {b|(A)} the baseline phase and {b|(C)}',
 'the adaptation phase from a young participant, and two sample trials at {b|(B)} at the baseline phase and {b|(D)} the adaptation phase from an older',
 'participant, respectively. {b|(E–H)} The right panels show the time series of target-hand errors, target-cursor errors, and target-eye errors of the same',
 'trials at the baseline phase and the adaptation phase from the same participants, respectively.'];
graphics.push({type:'text', x:39, y:1452, silent:true, style:{text:captionHead, fontFamily:TXTFONT, fontSize:14.5, fill:'#6a6a6a', verticalAlign:'middle'}});
captionLines.forEach((t,i)=>graphics.push({type:'text', x:39, y:1475.5+i*24.2, silent:true,
  style:{text:t, fontFamily:TXTFONT, fontSize:18, fill:'#5c5c5c', verticalAlign:'middle',
    rich:{b:{fontFamily:TXTFONT, fontSize:18, fontWeight:'bold', fill:'#5c5c5c'}}}}));
graphics.push({type:'rect', shape:{x:8.5, y:8.5, width:1321, height:1568, r:5}, silent:true, z:-1,
  style:{fill:'none', stroke:'#c8c8c8', lineWidth:1}});

const chart = echarts.init(document.getElementById('c'), null, {renderer:'canvas', width:1332, height:1580});
chart.setOption({animation:false, backgroundColor:'#fff', grid:grids, xAxis:xAxes, yAxis:yAxes, series:series, legend:legends, graphic:graphics, tooltip:{show:false}});
</script></body></html>
